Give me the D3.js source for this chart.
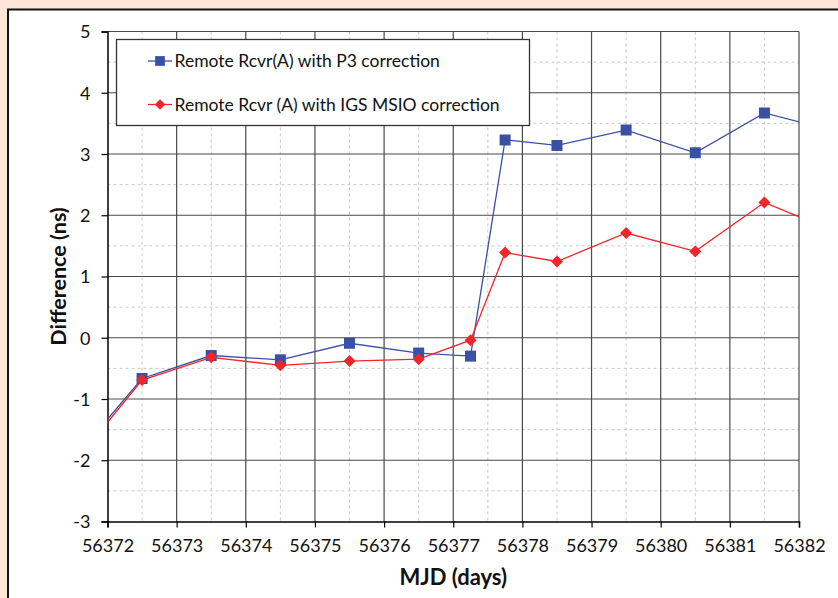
<!DOCTYPE html>
<html><head><meta charset="utf-8">
<script src="https://cdn.jsdelivr.net/npm/d3@7"></script>
<style>
html,body{margin:0;padding:0;background:#fde5da;}
svg{display:block;}
text{font-family:Lato,"Open Sans",sans-serif;}
</style></head>
<body>
<svg id="chart" width="838" height="598"></svg>
<script>
// ---- data ----
const mjd = [56371.5, 56372.5, 56373.5, 56374.5, 56375.5, 56376.5, 56377.25, 56377.75, 56378.5, 56379.5, 56380.5, 56381.5, 56382.5];
const p3Values  = [-1.99, -0.665, -0.29, -0.36, -0.09, -0.25, -0.30, 3.23, 3.14, 3.39, 3.02, 3.67, 3.38];
const igsValues = [-2.07, -0.69, -0.32, -0.45, -0.38, -0.35, -0.04, 1.39, 1.245, 1.71, 1.41, 2.21, 1.74];
const xTicks = [56372, 56373, 56374, 56375, 56376, 56377, 56378, 56379, 56380, 56381, 56382];
const yTicks = [-3, -2, -1, 0, 1, 2, 3, 4, 5];
const seriesNames = ["Remote Rcvr(A) with P3 correction", "Remote Rcvr (A) with IGS MSIO correction"];

const svg = d3.select("#chart");
const L = 107.5, R = 799, T = 31.5, B = 521.5;
const x = d3.scaleLinear().domain([56372, 56382]).range([L, R]);
const y = d3.scaleLinear().domain([-3, 5]).range([B, T]);

// frame
svg.append("rect").attr("x", 8).attr("y", 9.5).attr("width", 840).attr("height", 600)
  .attr("fill", "#fff").attr("stroke", "#111").attr("stroke-width", 2);

// minor gridlines
const xMinor = xTicks.slice(0, -1).map(v => v + 0.5);
const yMinor = yTicks.slice(0, -1).map(v => v + 0.5);
const g = svg.append("g");
g.selectAll(".xm").data(xMinor).join("line")
  .attr("x1", d => x(d)).attr("x2", d => x(d)).attr("y1", T).attr("y2", B)
  .attr("stroke", "#c8c8c8").attr("stroke-dasharray", "3,3").attr("stroke-width", 1);
g.selectAll(".ym").data(yMinor).join("line")
  .attr("y1", d => y(d)).attr("y2", d => y(d)).attr("x1", L).attr("x2", R)
  .attr("stroke", "#c8c8c8").attr("stroke-dasharray", "3,3").attr("stroke-width", 1);
// major gridlines
g.selectAll(".xM").data(xTicks.slice(1)).join("line")
  .attr("x1", d => x(d)).attr("x2", d => x(d)).attr("y1", T).attr("y2", B)
  .attr("stroke", "#4a4a4a").attr("stroke-width", 1.2);
g.selectAll(".yM").data(yTicks.slice(1)).join("line")
  .attr("y1", d => y(d)).attr("y2", d => y(d)).attr("x1", L).attr("x2", R)
  .attr("stroke", "#4a4a4a").attr("stroke-width", 1.2);

// axes
const xAxis = svg.append("g").attr("transform", `translate(0,${B})`)
  .call(d3.axisBottom(x).tickValues(xTicks).tickFormat(d3.format("d")).tickSizeOuter(0).tickSize(6).tickPadding(10));
const yAxis = svg.append("g").attr("transform", `translate(${L},0)`)
  .call(d3.axisLeft(y).tickValues(yTicks).tickFormat(d => d).tickSizeOuter(0).tickSize(6).tickPadding(11));
[xAxis, yAxis].forEach(a => {
  a.select(".domain").attr("stroke", "#000").attr("stroke-width", 1.5);
  a.selectAll(".tick line").attr("stroke", "#000").attr("stroke-width", 1.2);
  a.selectAll(".tick text").attr("font-family", "Lato, sans-serif").attr("font-size", 18).attr("fill", "#111");
});
yAxis.selectAll(".tick text").attr("dy", "0.35em");
xAxis.selectAll(".tick text").attr("dy", "0.82em");

// clip
svg.append("clipPath").attr("id", "clip").append("rect")
  .attr("x", L).attr("y", T).attr("width", R - L).attr("height", B - T);
const plot = svg.append("g").attr("clip-path", "url(#clip)");

const blue = "#3a50a5", red = "#f0262a";
const line = vals => d3.line().x((d, i) => x(mjd[i])).y(d => y(d))(vals);
plot.append("path").attr("d", line(p3Values)).attr("fill", "none").attr("stroke", blue).attr("stroke-width", 1.3);
plot.append("path").attr("d", line(igsValues)).attr("fill", "none").attr("stroke", red).attr("stroke-width", 1.3);

const sq = d3.symbol().type(d3.symbolSquare).size(121);
const dm = d3.symbol().type(d3.symbolSquare).size(72);
plot.selectAll(".bm").data(p3Values).join("path")
  .attr("d", sq).attr("transform", (d, i) => `translate(${x(mjd[i])},${y(d)})`).attr("fill", blue);
plot.selectAll(".rm").data(igsValues).join("path")
  .attr("d", dm).attr("transform", (d, i) => `translate(${x(mjd[i])},${y(d)}) rotate(45)`).attr("fill", red);

// legend
const lg = svg.append("g");
lg.append("rect").attr("x", 116.5).attr("y", 39.5).attr("width", 413).attr("height", 86)
  .attr("fill", "#fff").attr("stroke", "#333").attr("stroke-width", 1.3);
const rows = [{c: blue, sym: d3.symbol().type(d3.symbolSquare).size(95), rot: 0}, {c: red, sym: d3.symbol().type(d3.symbolSquare).size(55), rot: 45}];
seriesNames.forEach((n, i) => {
  const yy = 61 + i * 43.5;
  lg.append("line").attr("x1", 148).attr("x2", 172).attr("y1", yy).attr("y2", yy).attr("stroke", rows[i].c).attr("stroke-width", 1.3);
  lg.append("path").attr("d", rows[i].sym).attr("transform", `translate(160,${yy}) rotate(${rows[i].rot})`).attr("fill", rows[i].c);
  lg.append("text").attr("x", 174.5).attr("y", yy).attr("dy", "0.35em").attr("font-size", 17.5).attr("fill", "#111").text(n);
});

// axis titles
svg.append("text").attr("x", (L + R) / 2).attr("y", 577).attr("dy", "0.35em").attr("text-anchor", "middle")
  .attr("font-weight", "bold").attr("font-size", 22).attr("fill", "#111").text("MJD (days)");
svg.append("text").attr("transform", `translate(58,${(T + B) / 2}) rotate(-90)`).attr("dy", "0.35em")
  .attr("text-anchor", "middle").attr("font-weight", "bold").attr("font-size", 21.5).attr("fill", "#111").text("Difference (ns)");
</script>
</body></html>
